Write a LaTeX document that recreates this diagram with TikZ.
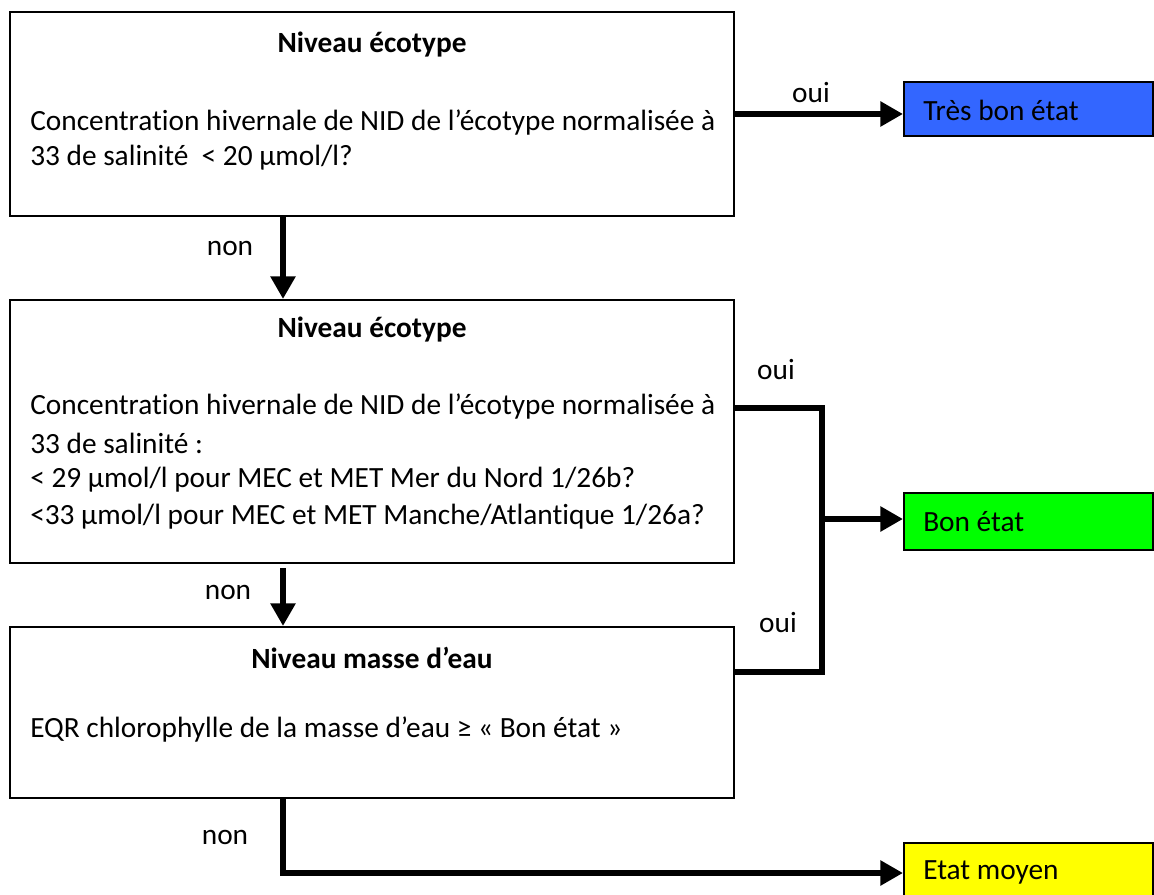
\documentclass[tikz,border=0pt]{standalone}
\usepackage{fontspec}
\setmainfont{Carlito}[Ligatures={NoCommon}]
\usetikzlibrary{arrows.meta}
\definecolor{cblue}{RGB}{51,102,255}
\definecolor{cgreen}{RGB}{0,255,0}
\definecolor{cyellow}{RGB}{255,255,0}
\tikzset{
  box/.style={draw=black, line width=1.5pt, anchor=north west, inner sep=0pt, minimum width=543pt},
  cbox/.style={draw=black, line width=1.2pt, anchor=north west, inner sep=0pt, minimum width=186.75pt},
  txt/.style={anchor=west, inner sep=0pt, font=\fontsize{22pt}{26pt}\selectfont},
  ttl/.style={anchor=center, inner sep=0pt, font=\fontsize{22pt}{26pt}\selectfont\bfseries},
  lbl/.style={anchor=center, inner sep=0pt, font=\fontsize{22pt}{26pt}\selectfont},
  conn/.style={line width=5pt, line join=miter, -{Triangle[length=17pt,width=18pt]}},
  plain/.style={line width=5pt, line join=miter}
}
\begin{document}
\begin{tikzpicture}[x=0.75pt,y=-0.75pt]
\clip (0,0) rectangle (1154,895);
\useasboundingbox (0,0) rectangle (1154,895);
\fill[white] (0,0) rectangle (1154,895);

% decision boxes
\node[box, minimum height=153pt] (b1) at (9,11) {};
\node[box, minimum height=197.25pt] (b2) at (9,299) {};
\node[box, minimum height=128.25pt] (b3) at (9,626) {};

% result boxes
\node[cbox, fill=cblue, minimum height=40.5pt] (tb) at (903,81) {};
\node[cbox, fill=cgreen, minimum height=42.75pt] (bo) at (903,492) {};
\node[cbox, fill=cyellow, minimum height=45pt] (em) at (903,842) {};

% texts box 1
\node[ttl] (t1) at (372,45) {Niveau écotype};
\node[txt] (t1a) at (30,123) {Concentration hivernale de NID de l’écotype normalisée à};
\node[txt] (t1b) at (30,158) {33 de salinité \ < 20 µmol/l?};

% texts box 2
\node[ttl] (t2) at (372,330) {Niveau écotype};
\node[txt] (t2a) at (30,407) {Concentration hivernale de NID de l’écotype normalisée à};
\node[txt] (t2b) at (30,443) {33 de salinité :};
\node[txt] (t2c) at (30,480) {< 29 µmol/l pour MEC et MET Mer du Nord 1/26b?};
\node[txt] (t2d) at (30,517) {<33 µmol/l pour MEC et MET Manche/Atlantique 1/26a?};

% texts box 3
\node[ttl] (t3) at (372,658) {Niveau masse d’eau};
\node[txt] (t3a) at (30,730) {EQR chlorophylle de la masse d’eau ≥ « Bon état »};

% result texts
\node[txt] (tbt) at (923,110) {Très bon état};
\node[txt] (bot) at (923,522) {Bon état};
\node[txt] (emt) at (923,872) {Etat moyen};

% connector helpers
\coordinate (nx) at (283,0);
\coordinate (n2s) at (283,568);
\coordinate (j1) at (822,408);
\coordinate (j2) at (822,672);
\coordinate (jb) at (822,519);
\coordinate (c3) at (283,873);

% connectors
\draw[conn] (b1.east |- 0,114) -- (tb.west |- 0,114);
\draw[conn] (b1.south -| nx) -- (b2.north -| nx);
\draw[plain] (b2.east |- j1) -- (j1) -- (j2) -- (b3.east |- j2);
\draw[conn] (jb) -- (bo.west |- jb);
\draw[conn] (n2s) -- (b3.north -| nx);
\draw[conn] (b3.south -| nx) -- (c3) -- (em.west |- c3);

% labels
\node[lbl] (l1) at (811,93) {oui};
\node[lbl] (l2) at (230,248) {non};
\node[lbl] (l3) at (776,370) {oui};
\node[lbl] (l4) at (778,623) {oui};
\node[lbl] (l5) at (228,592) {non};
\node[lbl] (l6) at (225,837) {non};
\end{tikzpicture}
\end{document}
